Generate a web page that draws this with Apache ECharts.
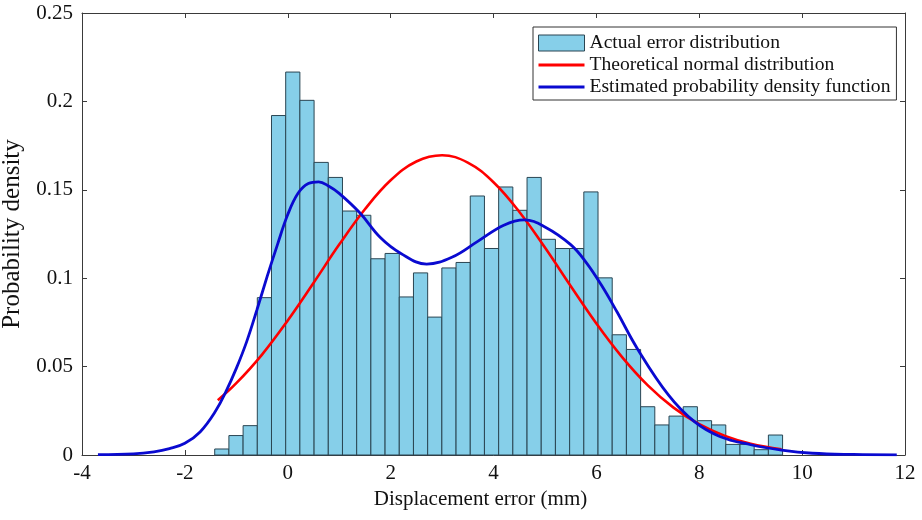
<!DOCTYPE html>
<html>
<head>
<meta charset="utf-8">
<script src="https://cdn.jsdelivr.net/npm/echarts@6/dist/echarts.min.js"></script>
<style>
  html, body { margin: 0; padding: 0; background: #ffffff; }
  #chart { width: 922px; height: 520px; }
</style>
</head>
<body>
<div id="chart"></div>
<script>
// Histogram of displacement errors (density-normalised), 40 bins
const binStart = -1.42;
const binWidth = 0.276;
const densities = [
  0.0034, 0.011, 0.0166, 0.089, 0.192, 0.2166, 0.2006, 0.1655, 0.157, 0.138,
  0.1356, 0.111, 0.114, 0.0894, 0.103, 0.078, 0.1058, 0.1089, 0.1465, 0.1168,
  0.1516, 0.1384, 0.157, 0.122, 0.1168, 0.1168, 0.1488, 0.1002, 0.068, 0.0597,
  0.0273, 0.017, 0.022, 0.0273, 0.0194, 0.017, 0.006, 0.006, 0.003, 0.0113
];

// Fitted normal curve, sampled along x
const normalX = [-1.36, -1, -0.5, 0, 0.5, 1, 1.5, 2, 2.5, 3, 3.5, 4, 4.5, 5, 5.5, 6, 6.5, 7, 7.5, 8, 8.5, 9, 9.6];
const normalY = [0.031, 0.0406, 0.0568, 0.0761, 0.0973, 0.119, 0.139, 0.1554, 0.166, 0.1695, 0.1654, 0.1543, 0.1376, 0.1173, 0.0956, 0.0744, 0.0554, 0.0394, 0.0268, 0.0174, 0.0108, 0.0064, 0.0033];

// Kernel density estimate, sampled along x
const kdeX = [-3.69, -3.0, -2.6, -2.3, -2.0, -1.7, -1.4, -1.2, -1.0, -0.8, -0.6, -0.4, -0.2, 0.0, 0.2, 0.4, 0.6, 0.8, 1.0, 1.4, 1.8, 2.2, 2.7, 3.2, 3.7, 4.2, 4.6, 5.0, 5.5, 5.8, 6.1, 6.4, 6.8, 7.4, 7.9, 8.4, 9.0, 9.6, 10.2, 11.0, 11.84];
const kdeY = [0.0002, 0.0006, 0.0018, 0.0036, 0.0066, 0.0132, 0.025, 0.036, 0.049, 0.064, 0.082, 0.101, 0.119, 0.136, 0.148, 0.1535, 0.1545, 0.152, 0.148, 0.137, 0.123, 0.114, 0.108, 0.112, 0.121, 0.130, 0.133, 0.129, 0.119, 0.109, 0.096, 0.081, 0.060, 0.034, 0.019, 0.0105, 0.0058, 0.0028, 0.001, 0.0003, 0.0001];

const xTicks = [-4, -2, 0, 2, 4, 6, 8, 10, 12];
const yTicks = [0, 0.05, 0.1, 0.15, 0.2, 0.25];

const names = ['Actual error distribution', 'Theoretical normal distribution', 'Estimated probability density function'];

const FONT = '"Liberation Serif", "DejaVu Serif", serif';
const AXIS_COLOR = '#3a3a3a';
const BAR_FILL = '#86cfe9';
const BAR_EDGE = '#2a4552';
const RED = '#ff0000';
const BLUE = '#0a0ad0';

const histData = densities.map((d, i) => [binStart + i * binWidth, binStart + (i + 1) * binWidth, d]);

const chart = echarts.init(document.getElementById('chart'), null, { renderer: 'canvas' });

const frameAxis = (extra) => Object.assign({
  axisLine: { show: true, onZero: false, lineStyle: { color: AXIS_COLOR, width: 1 } },
  axisTick: { show: true, inside: true, length: 5, lineStyle: { color: AXIS_COLOR } },
  splitLine: { show: false },
}, extra);

// legend entries for the curves: plain line, no marker
const lineLegendItem = (name, color) => ({
  name,
  itemStyle: { color: 'rgba(0,0,0,0)', borderWidth: 0, opacity: 0 },
  lineStyle: { color, width: 3, opacity: 1 }
});

chart.setOption({
  backgroundColor: '#ffffff',
  animation: false,
  grid: { left: 82, right: 17, top: 13, bottom: 65, containLabel: false, outerBoundsMode: 'none' },
  legend: {
    orient: 'vertical',
    left: 533,
    top: 27,
    padding: [6, 6, 3, 4],
    itemGap: 2,
    itemWidth: 46,
    itemHeight: 16,
    backgroundColor: '#ffffff',
    borderColor: '#333333',
    borderWidth: 1,
    borderRadius: 0,
    textStyle: { fontFamily: FONT, fontSize: 19.6, color: '#111' },
    data: [
      { name: names[0], icon: 'rect', itemStyle: { color: BAR_FILL, borderColor: BAR_EDGE, borderWidth: 1 } },
      lineLegendItem(names[1], RED),
      lineLegendItem(names[2], BLUE)
    ]
  },
  xAxis: [
    frameAxis({
      type: 'value', min: -4, max: 12, interval: 2, position: 'bottom',
      name: 'Displacement error (mm)', nameLocation: 'middle', nameGap: 34,
      nameTextStyle: { fontFamily: FONT, fontSize: 21, color: '#111', padding: [0, 26, 0, 0] },
      axisLabel: {
        fontFamily: FONT, fontSize: 21, color: '#111', margin: 8,
        formatter: v => xTicks.includes(v) ? String(v) : ''
      }
    }),
    frameAxis({
      type: 'value', min: -4, max: 12, interval: 2, position: 'top',
      axisLabel: { show: false }
    })
  ],
  yAxis: [
    frameAxis({
      type: 'value', min: 0, max: 0.25, interval: 0.05, position: 'left',
      name: 'Probability density', nameLocation: 'middle', nameGap: 44,
      nameTextStyle: { fontFamily: FONT, fontSize: 25, color: '#111' },
      axisLabel: {
        fontFamily: FONT, fontSize: 21, color: '#111', margin: 9,
        formatter: v => {
          const t = yTicks.find(k => Math.abs(k - v) < 1e-9);
          return t === undefined ? '' : String(+t.toFixed(2));
        }
      }
    }),
    frameAxis({
      type: 'value', min: 0, max: 0.25, interval: 0.05, position: 'right',
      axisLabel: { show: false }
    })
  ],
  series: [
    {
      name: names[0],
      type: 'custom',
      xAxisIndex: 0, yAxisIndex: 0,
      itemStyle: { color: BAR_FILL, borderColor: BAR_EDGE, borderWidth: 1 },
      encode: { x: [0, 1], y: 2 },
      renderItem: (params, api) => {
        const p0 = api.coord([api.value(0), 0]);
        const p1 = api.coord([api.value(1), api.value(2)]);
        return {
          type: 'rect',
          shape: { x: p0[0], y: p1[1], width: p1[0] - p0[0], height: p0[1] - p1[1] },
          style: { fill: BAR_FILL, stroke: BAR_EDGE, lineWidth: 1 }
        };
      },
      data: histData,
      z: 2
    },
    {
      name: names[1],
      type: 'line',
      xAxisIndex: 0, yAxisIndex: 0,
      data: normalX.map((x, i) => [x, normalY[i]]),
      smooth: 0.4,
      symbol: 'none',
      lineStyle: { color: RED, width: 2.6 },
      itemStyle: { color: RED },
      z: 3
    },
    {
      name: names[2],
      type: 'line',
      xAxisIndex: 0, yAxisIndex: 0,
      data: kdeX.map((x, i) => [x, kdeY[i]]),
      smooth: 0.4,
      symbol: 'none',
      lineStyle: { color: BLUE, width: 2.8 },
      itemStyle: { color: BLUE },
      z: 4
    }
  ]
});
</script>
</body>
</html>
